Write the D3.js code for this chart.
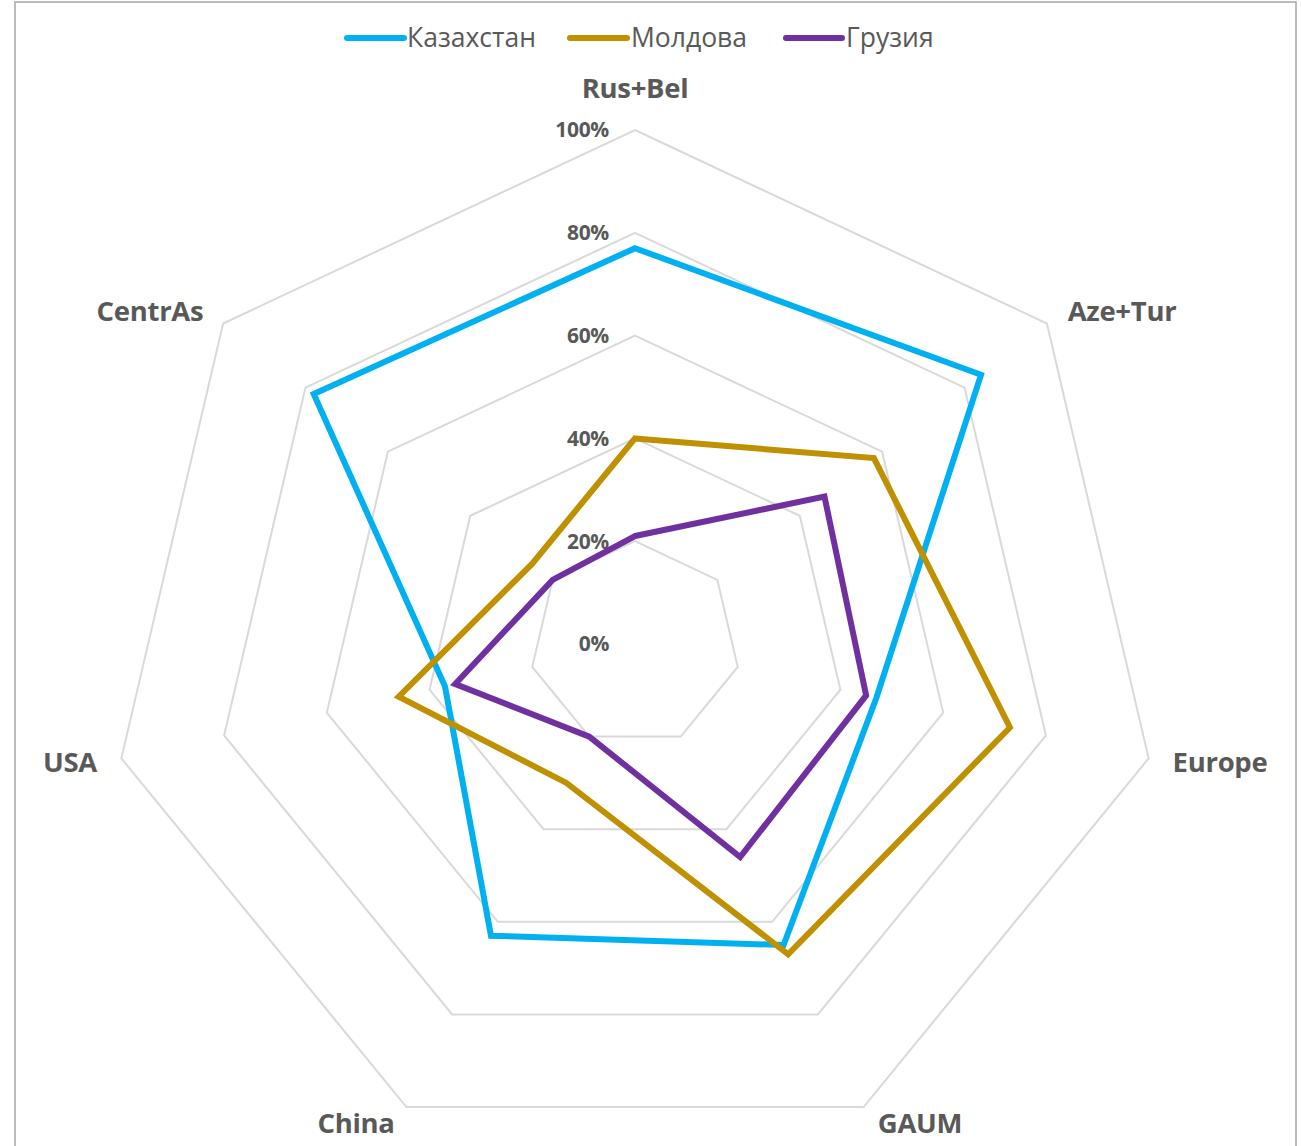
<!DOCTYPE html>
<html>
<head>
<meta charset="utf-8">
<script src="https://cdn.jsdelivr.net/npm/d3@7"></script>
<style>
  html, body { margin: 0; padding: 0; background: #ffffff; }
  svg { display: block; }
</style>
</head>
<body>
<svg id="chart" width="1301" height="1146"></svg>
<script>
// ---- Data ----
const categories = ["Rus+Bel", "Aze+Tur", "Europe", "GAUM", "China", "USA", "CentrAs"];
const seriesNames = ["Казахстан", "Молдова", "Грузия"];
const kazakhstan = [0.77, 0.84, 0.47, 0.65, 0.63, 0.37, 0.78];
const moldova    = [0.40, 0.58, 0.73, 0.67, 0.30, 0.46, 0.25];
const georgia    = [0.21, 0.46, 0.45, 0.46, 0.20, 0.35, 0.20];
const tickValues = [0, 0.2, 0.4, 0.6, 0.8, 1.0];
const tickLabels = ["0%", "20%", "40%", "60%", "80%", "100%"];
const seriesColors = ["#00B0F0", "#BF9000", "#7030A0"];

// ---- Layout ----
const svg = d3.select("#chart");
const cx = 635, cy = 644;
const R = 514;          // vertical radius of 100%
const xStretch = 1.025; // picture is slightly wider than tall
const textColor = "#595959";

const r = d3.scaleLinear().domain([0, 1]).range([0, R]);
const angle = d3.scaleLinear().domain([0, categories.length]).range([0, 2 * Math.PI]);

const px = (i, v) => cx + xStretch * r(v) * Math.sin(angle(i));
const py = (i, v) => cy - r(v) * Math.cos(angle(i));

// frame
svg.append("rect")
  .attr("x", 15).attr("y", 2)
  .attr("width", 1281).attr("height", 1160)
  .attr("fill", "#ffffff")
  .attr("stroke", "#a6a6a6").attr("stroke-width", 1.5);

// grid rings
const ring = d3.line().x(d => d[0]).y(d => d[1]).curve(d3.curveLinearClosed);
const gGrid = svg.append("g");
tickValues.filter(t => t > 0).forEach(t => {
  const pts = categories.map((c, i) => [px(i, t), py(i, t)]);
  gGrid.append("path")
    .attr("d", ring(pts))
    .attr("fill", "none")
    .attr("stroke", "#d9d9d9")
    .attr("stroke-width", 2);
});

// tick labels
svg.append("g").selectAll("text")
  .data(tickValues)
  .join("text")
  .attr("x", cx - 26)
  .attr("y", d => cy - r(d))
  .attr("dy", "0.35em")
  .attr("text-anchor", "end")
  .attr("font-family", "'Open Sans', sans-serif")
  .attr("font-weight", "bold")
  .attr("font-size", 21)
  .attr("letter-spacing", "-0.3")
  .attr("fill", textColor)
  .text((d, i) => tickLabels[i]);

// category labels
const labelPos = [
  { x: 635, y: 88, a: "middle" },
  { x: 1122, y: 311, a: "middle" },
  { x: 1220, y: 762, a: "middle" },
  { x: 920, y: 1123, a: "middle" },
  { x: 356, y: 1123, a: "middle" },
  { x: 70, y: 762, a: "middle" },
  { x: 150, y: 311, a: "middle" }
];
svg.append("g").selectAll("text")
  .data(categories)
  .join("text")
  .attr("x", (d, i) => labelPos[i].x)
  .attr("y", (d, i) => labelPos[i].y)
  .attr("dy", "0.35em")
  .attr("text-anchor", (d, i) => labelPos[i].a)
  .attr("font-family", "'Open Sans', sans-serif")
  .attr("font-weight", "bold")
  .attr("font-size", 27.5)
  .attr("letter-spacing", "-0.3")
  .attr("fill", textColor)
  .text(d => d);

// series
const seriesData = [kazakhstan, moldova, georgia];
const line = d3.line()
  .x((d, i) => px(i, d))
  .y((d, i) => py(i, d))
  .curve(d3.curveLinearClosed);

svg.append("g").selectAll("path")
  .data(seriesData)
  .join("path")
  .attr("d", d => line(d))
  .attr("fill", "none")
  .attr("stroke", (d, i) => seriesColors[i])
  .attr("stroke-width", 6)
  .attr("stroke-linejoin", "miter");

// legend
const legendItems = [
  { x1: 347, x2: 404, tx: 407 },
  { x1: 570, x2: 627, tx: 631 },
  { x1: 786, x2: 842, tx: 846 }
];
const gLeg = svg.append("g");
seriesNames.forEach((name, i) => {
  const it = legendItems[i];
  gLeg.append("line")
    .attr("x1", it.x1).attr("x2", it.x2)
    .attr("y1", 38).attr("y2", 38)
    .attr("stroke", seriesColors[i])
    .attr("stroke-width", 6)
    .attr("stroke-linecap", "round");
  gLeg.append("text")
    .attr("x", it.tx).attr("y", 38)
    .attr("dy", "0.35em")
    .attr("font-family", "'Open Sans', sans-serif")
    .attr("font-size", 26.5)
    .attr("fill", textColor)
    .text(name);
});
</script>
</body>
</html>
